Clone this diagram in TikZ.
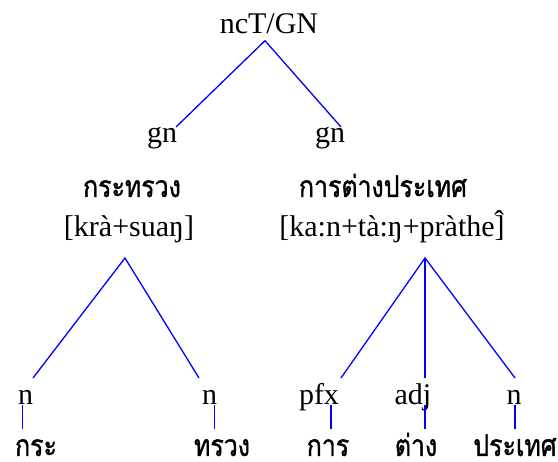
\documentclass[tikz,border=0pt]{standalone}
\usepackage{fontspec}
\setmainfont{Liberation Serif}
\newfontfamily\thaifont[Script=Thai,FakeBold=1.2,FakeStretch=0.83]{Loma}
\tikzset{
  lat/.style={inner sep=0pt, anchor=base, font=\fontsize{30}{32}\selectfont},
  thai/.style={inner sep=0pt, anchor=base, font=\thaifont\fontsize{30}{32}\selectfont},
  br/.style={draw=blue, line width=1.3pt}
}
\begin{document}
\begin{tikzpicture}[x=1pt,y=-1pt]
\useasboundingbox (0,0) rectangle (558,462);
\node[lat] (root) at (269,34) {ncT/GN};
\node[lat] (gnL) at (162,143) {gn};
\node[lat] (gnR) at (330,143) {gn};
\node[thai] (thL) at (132,197) {กระทรวง};
\node[thai] (thR) at (383,197) {การต่างประเทศ};
\node[lat] (ipaL) at (129,237) {[krà+suaŋ]};
\node[lat] (ipaR) at (392,237) {[ka:n+tà:ŋ+pràthe\rlap{\kern-0.5pt\raisebox{5pt}{ˆ}}]};
\node[lat] (n1) at (25.5,405) {n};
\node[lat] (n2) at (209.5,405) {n};
\node[lat] (pfx) at (319,405) {pfx};
\node[lat] (adj) at (413,405) {adj};
\node[lat] (n3) at (514,405) {n};
\node[thai] (w1) at (36,456) {กระ};
\node[thai] (w2) at (222,456) {ทรวง};
\node[thai] (w3) at (328,456) {การ};
\node[thai] (w4) at (416,456) {ต่าง};
\node[thai] (w5) at (515,456) {ประเทศ};
% top
\draw[br] ([shift={(14,-16)}]gnL.base) -- ([shift={(-4,6.7)}]root.base) -- ([shift={(11,-16)}]gnR.base);
% left triangle
\draw[br] ([shift={(7.5,-27)}]n1.base) -- ([shift={(-4,21)}]ipaL.base) -- ([shift={(-10.5,-27)}]n2.base);
% right triangle
\draw[br] ([shift={(22,-27)}]pfx.base) -- ([shift={(33,21)}]ipaR.base) -- ([shift={(1,-27)}]n3.base);
\draw[br] ([shift={(33,21)}]ipaR.base) -- ([shift={(12,-27)}]adj.base);
% verticals
\draw[br] ([shift={(-3,0)}]n1.base) -- ([shift={(-3,24)}]n1.base);
\draw[br] ([shift={(5,0)}]n2.base) -- ([shift={(5,24)}]n2.base);
\draw[br] ([shift={(12,0)}]pfx.base) -- ([shift={(12,24)}]pfx.base);
\draw[br] ([shift={(12,0)}]adj.base) -- ([shift={(12,24)}]adj.base);
\draw[br] ([shift={(1,0)}]n3.base) -- ([shift={(1,24)}]n3.base);
\end{tikzpicture}
\end{document}
